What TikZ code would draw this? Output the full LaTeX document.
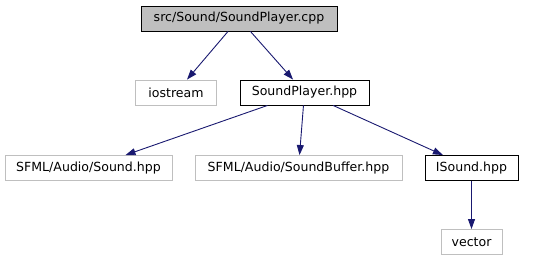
\documentclass[tikz,border=0pt]{standalone}
\usepackage{fontspec}
\setmainfont{DejaVu Sans}
\usetikzlibrary{arrows.meta}

\definecolor{edgeblue}{RGB}{25,25,112}
\definecolor{extgray}{RGB}{191,191,191}

\begin{document}
\begin{tikzpicture}[x=1bp, y=-1bp, thick,
    file/.style={draw=black, line width=0.9bp, minimum height=25bp, inner xsep=3bp, font=\fontsize{12.6}{14}\selectfont},
    extfile/.style={file, draw=extgray},
    incl/.style={draw=edgeblue, line width=0.9bp, -{Triangle[length=10bp, width=7bp]}}]
            \useasboundingbox (0,0) rectangle (535,261);

            % top level source file
            \node[file, fill=extgray, minimum width=196bp] (cpp) at (239,18.5) {src/Sound/SoundPlayer.cpp};

            % direct includes
            \node[extfile, minimum width=81bp] (ios) at (176,92.5) {iostream};
            \node[file, minimum width=129bp] (hpp) at (304.5,92.5) {SoundPlayer.hpp};

            % includes of SoundPlayer.hpp
            \node[extfile, minimum width=167bp] (snd) at (88.5,168) {SFML/Audio/Sound.hpp};
            \node[extfile, minimum width=207bp] (buf) at (298.5,168) {SFML/Audio/SoundBuffer.hpp};
            \node[file, minimum width=93bp] (isnd) at (471.5,168) {ISound.hpp};

            \node[extfile, minimum width=61bp] (vec) at (471.5,242) {vector};

            \draw[incl] (cpp) -- (ios);
            \draw[incl] (cpp) -- (hpp);
            \draw[incl] (hpp) -- (snd);
            \draw[incl] (hpp) -- (buf);
            \draw[incl] (hpp) -- (isnd);
            \draw[incl] (isnd) -- (vec);
        \end{tikzpicture}
\end{document}
